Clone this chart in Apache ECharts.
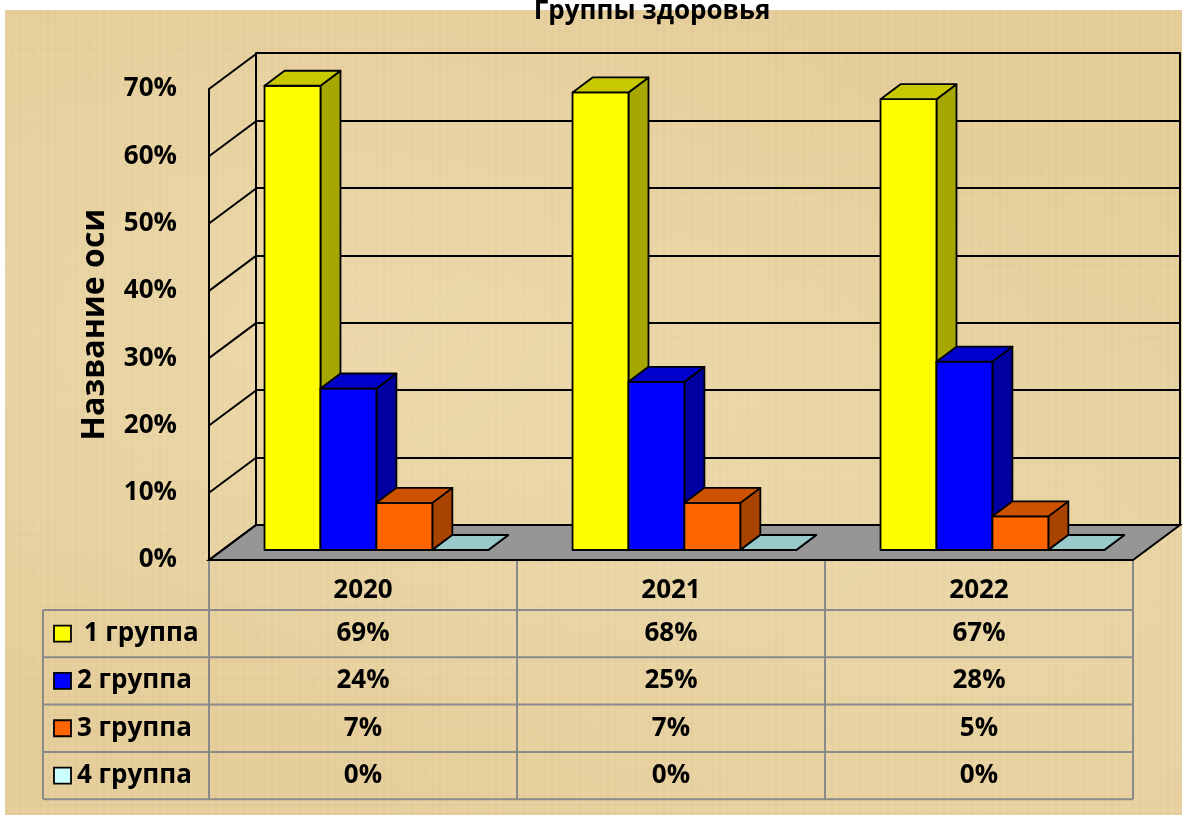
<!DOCTYPE html>
<html><head><meta charset="utf-8">
<script src="https://cdn.jsdelivr.net/npm/echarts@6/dist/echarts.min.js"></script>
<style>
html,body{margin:0;padding:0;background:#fff;}
#wrap{position:relative;width:1182px;height:815px;background:#fff;overflow:hidden;}
#paper{position:absolute;left:5px;top:10px;right:0;bottom:0;
 background:#E6CF9C;
 background-image:
  radial-gradient(ellipse at 30% 40%, rgba(255,245,215,0.25), rgba(255,245,215,0) 60%),
  radial-gradient(ellipse at 80% 70%, rgba(255,245,215,0.2), rgba(255,245,215,0) 55%),
  repeating-linear-gradient(90deg, rgba(160,120,60,0.035) 0 2px, rgba(255,255,255,0) 2px 7px),
  repeating-linear-gradient(0deg, rgba(160,120,60,0.03) 0 2px, rgba(255,255,255,0) 2px 9px);}
#chart{position:absolute;left:0;top:0;width:1182px;height:815px;}
</style></head>
<body><div id="wrap"><div id="paper"></div><div id="chart"></div></div>
<script>
// ---- data ----
const categories = ['2020', '2021', '2022'];
const groupNames = [' 1 группа', '2 группа', '3 группа', '4 группа'];
const group1 = [69, 68, 67];
const group2 = [24, 25, 28];
const group3 = [7, 7, 5];
const group4 = [0, 0, 0];
const yTicks = [0, 10, 20, 30, 40, 50, 60, 70];
const titleText = 'Группы здоровья';
const axisTitle = 'Название оси';

// ---- style / layout ----
const FONT = 'Open Sans';
const groups = [group1, group2, group3, group4];
const COLORS = [
  {front: '#FFFF00', top: '#C8C800', side: '#A6A600'},
  {front: '#0000FF', top: '#0000CC', side: '#0000A0'},
  {front: '#FF6600', top: '#CC5200', side: '#A84400'},
  {front: '#CCFFFF', top: '#99C9C9', side: '#88BBBB'}
];
const DX = 47, DY = -35;      // floor depth (front -> back)
const PX = 13.4, PY = -10;    // bar front plane offset
const BDX = 20, BDY = -15;    // bar depth
const BAR_RATIO = 0.1816;     // bar width / category band
const LW = 2;

const chart = echarts.init(document.getElementById('chart'), null, {renderer: 'canvas'});

function barRender(k) {
  return function (params, api) {
    const ci = api.value(0), v = api.value(1);
    const top = api.coord([ci, v]);
    const base = api.coord([ci, 0]);
    const band = api.size([1, 0])[0];
    const bw = band * BAR_RATIO;
    const x0 = top[0] - 2 * bw + k * bw + PX;
    const yT = top[1] + PY, yB = base[1] + PY;
    const c = COLORS[k];
    const st = {stroke: '#000', lineWidth: 1.8, lineJoin: 'round'};
    return {
      type: 'group',
      children: [
        {type: 'polygon', shape: {points: [[x0 + bw, yT], [x0 + bw + BDX, yT + BDY], [x0 + bw + BDX, yB + BDY], [x0 + bw, yB]]},
          style: Object.assign({fill: c.side}, st)},
        {type: 'rect', shape: {x: x0, y: yT, width: bw, height: yB - yT},
          style: Object.assign({fill: c.front}, st)},
        {type: 'polygon', shape: {points: [[x0, yT], [x0 + bw, yT], [x0 + bw + BDX, yT + BDY], [x0 + BDX, yT + BDY]]},
          style: Object.assign({fill: c.top}, st)}
      ]
    };
  };
}

function floorRender(params, api) {
  const band = api.size([1, 0])[0];
  const a = api.coord([0, 0]);
  const b = api.coord([categories.length - 1, 0]);
  const L = a[0] - band / 2, R = b[0] + band / 2, y = a[1];
  return {
    type: 'polygon',
    shape: {points: [[L, y], [R, y], [R + DX, y + DY], [L + DX, y + DY]]},
    style: {fill: '#969696', stroke: '#000', lineWidth: LW}
  };
}

function tickRender(params, api) {
  const band = api.size([1, 0])[0];
  const p = api.coord([0, api.value(0)]);
  const x = p[0] - band / 2;
  return {
    type: 'line',
    shape: {x1: x, y1: p[1], x2: x + DX, y2: p[1] + DY},
    style: {stroke: '#000', lineWidth: LW}
  };
}

const series = [
  {type: 'custom', name: 'floor', xAxisIndex: 0, yAxisIndex: 0, z: 1, clip: false, silent: true,
    renderItem: floorRender, data: [[0]]},
  {type: 'custom', name: 'ticks', xAxisIndex: 0, yAxisIndex: 0, z: 1, clip: false, silent: true,
    renderItem: tickRender, encode: {y: 0}, data: yTicks.map(v => [v])}
];
groups.forEach((vals, k) => {
  series.push({
    type: 'custom', name: groupNames[k], xAxisIndex: 0, yAxisIndex: 0, z: 3 + k, clip: false,
    renderItem: barRender(k), encode: {x: 0, y: 1},
    data: vals.map((v, i) => [i, v])
  });
});

const option = {
  backgroundColor: 'transparent',
  animation: false,
  title: {
    text: titleText, left: 647, top: -6, textAlign: 'center',
    textStyle: {fontFamily: FONT, fontSize: 26, fontWeight: 'bold', color: '#000'}
  },
  grid: [
    {left: 209, top: 89, width: 924, height: 471, outerBoundsMode: 'none', containLabel: false},
    {left: 256, top: 53, width: 924, height: 472, outerBoundsMode: 'none', containLabel: false}
  ],
  xAxis: [
    {type: 'category', gridIndex: 0, data: categories, boundaryGap: true,
      axisLine: {show: false}, axisTick: {show: false}, splitLine: {show: false},
      axisLabel: {show: true, margin: 31, verticalAlign: 'middle', fontFamily: FONT, fontSize: 26, fontWeight: 'bold', color: '#000'}},
    {type: 'category', gridIndex: 1, data: categories, show: false}
  ],
  yAxis: [
    {type: 'value', gridIndex: 0, min: 0, max: 70, interval: 10,
      axisLine: {show: true, lineStyle: {color: '#000', width: LW}},
      axisTick: {show: false}, splitLine: {show: false},
      axisLabel: {margin: 32, formatter: '{value}%', fontFamily: FONT, fontSize: 26, fontWeight: 'bold', color: '#000'},
      name: axisTitle, nameLocation: 'middle', nameGap: 98, nameRotate: 90,
      nameTextStyle: {fontFamily: FONT, fontSize: 32, fontWeight: 'bold', color: '#000'}},
    {type: 'value', gridIndex: 1, min: 0, max: 70, interval: 10, position: 'left',
      axisLine: {show: true, lineStyle: {color: '#000', width: LW}},
      axisTick: {show: false}, axisLabel: {show: false},
      splitLine: {show: true, lineStyle: {color: '#000', width: LW}}},
    {type: 'value', gridIndex: 1, min: 0, max: 70, interval: 10, position: 'right',
      axisLine: {show: true, lineStyle: {color: '#000', width: LW}},
      axisTick: {show: false}, axisLabel: {show: false}, splitLine: {show: false}}
  ],
  series: series
};
chart.setOption(option);

// ---- data table (built from the same arrays, aligned to the category axis) ----
function buildTable() {
  const cx = categories.map(c => chart.convertToPixel({xAxisIndex: 0}, c));
  const band = cx[1] - cx[0];
  const bounds = [];
  for (let i = 0; i <= categories.length; i++) bounds.push(cx[0] - band / 2 + i * band);
  const y0 = chart.convertToPixel({yAxisIndex: 0}, 0);
  const headerH = 50, rowH = 47.3, leftX = 43;
  const bodyTop = y0 + headerH;
  const bottom = bodyTop + rowH * groups.length;
  const lineStyle = {stroke: '#8A8A8A', lineWidth: 2};
  const els = [];
  bounds.forEach(x => els.push({type: 'line', shape: {x1: x, y1: y0 + 1, x2: x, y2: bottom}, style: lineStyle, silent: true}));
  els.push({type: 'line', shape: {x1: leftX, y1: bodyTop, x2: leftX, y2: bottom}, style: lineStyle, silent: true});
  for (let r = 0; r <= groups.length; r++) {
    const y = bodyTop + r * rowH;
    els.push({type: 'line', shape: {x1: leftX, y1: y, x2: bounds[bounds.length - 1], y2: y}, style: lineStyle, silent: true});
  }
  groups.forEach((vals, k) => {
    const yc = bodyTop + rowH * (k + 0.5);
    els.push({type: 'rect', shape: {x: 54, y: yc - 8, width: 17, height: 16},
      style: {fill: COLORS[k].front, stroke: '#000', lineWidth: 1.8}, silent: true});
    els.push({type: 'text', x: 77, y: yc, silent: true,
      style: {text: groupNames[k], fontFamily: FONT, fontSize: 26, fontWeight: 'bold', fill: '#000',
        align: 'left', verticalAlign: 'middle'}});
    vals.forEach((v, i) => {
      els.push({type: 'text', x: cx[i], y: yc, silent: true,
        style: {text: v + '%', fontFamily: FONT, fontSize: 26, fontWeight: 'bold', fill: '#000',
          align: 'center', verticalAlign: 'middle'}});
    });
  });
  chart.setOption({graphic: [{type: 'group', id: 'table', children: els}]});
}
buildTable();
</script>
</body></html>
